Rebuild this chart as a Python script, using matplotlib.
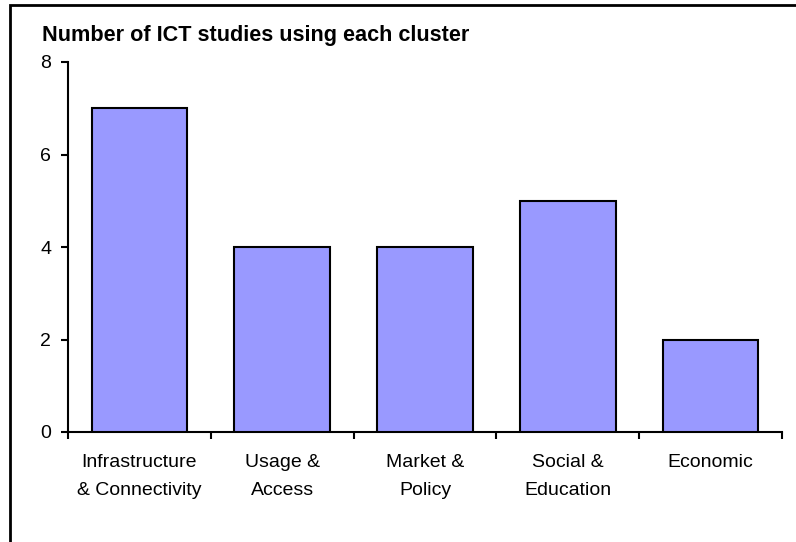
import matplotlib.pyplot as plt
from matplotlib.patches import Rectangle

# dati del grafico
categories = ["Infrastructure\n& Connectivity", "Usage &\nAccess", "Market &\nPolicy",
              "Social &\nEducation", "Economic"]
counts = [7, 4, 4, 5, 2]
y_ticks = [0, 2, 4, 6, 8]

plt.rcParams['font.family'] = ['Liberation Sans', 'DejaVu Sans']

fig = plt.figure(figsize=(7.96, 5.42), dpi=100)
ax = fig.add_axes([68 / 796, 110 / 542, 714 / 796, 370 / 542])

x = list(range(len(categories)))
ax.bar(x, counts, width=0.67, color="#9999ff", edgecolor="black", linewidth=1.5, zorder=3)

ax.set_xlim(-0.5, len(categories) - 0.5)
ax.set_ylim(0, 8)
ax.set_yticks(y_ticks)

# etichette al centro, tacche tra le categorie
ax.set_xticks(x)
ax.set_xticklabels(categories, fontsize=14, linespacing=1.85)
ax.set_xticks([i - 0.5 for i in range(len(categories) + 1)], minor=True)
ax.tick_params(axis='x', which='major', length=0, pad=16)
ax.tick_params(axis='x', which='minor', length=5, width=1.5, direction='out')
ax.tick_params(axis='y', length=5, width=1.5, direction='out', pad=7, labelsize=14)

for s in ['top', 'right']:
    ax.spines[s].set_visible(False)
for s in ['left', 'bottom']:
    ax.spines[s].set_linewidth(1.5)

fig.text(42 / 796, 1 - 41 / 542, "Number of ICT studies using each cluster",
         fontsize=15.6, fontweight='bold', va='baseline', ha='left')

# cornice esterna
frame = Rectangle((10 / 796, -0.1), 1.2, 1.1 - 5 / 542, transform=fig.transFigure,
                  fill=False, edgecolor='black', linewidth=2, clip_on=False)
fig.patches.append(frame)

fig.savefig("out.png", dpi=100)
